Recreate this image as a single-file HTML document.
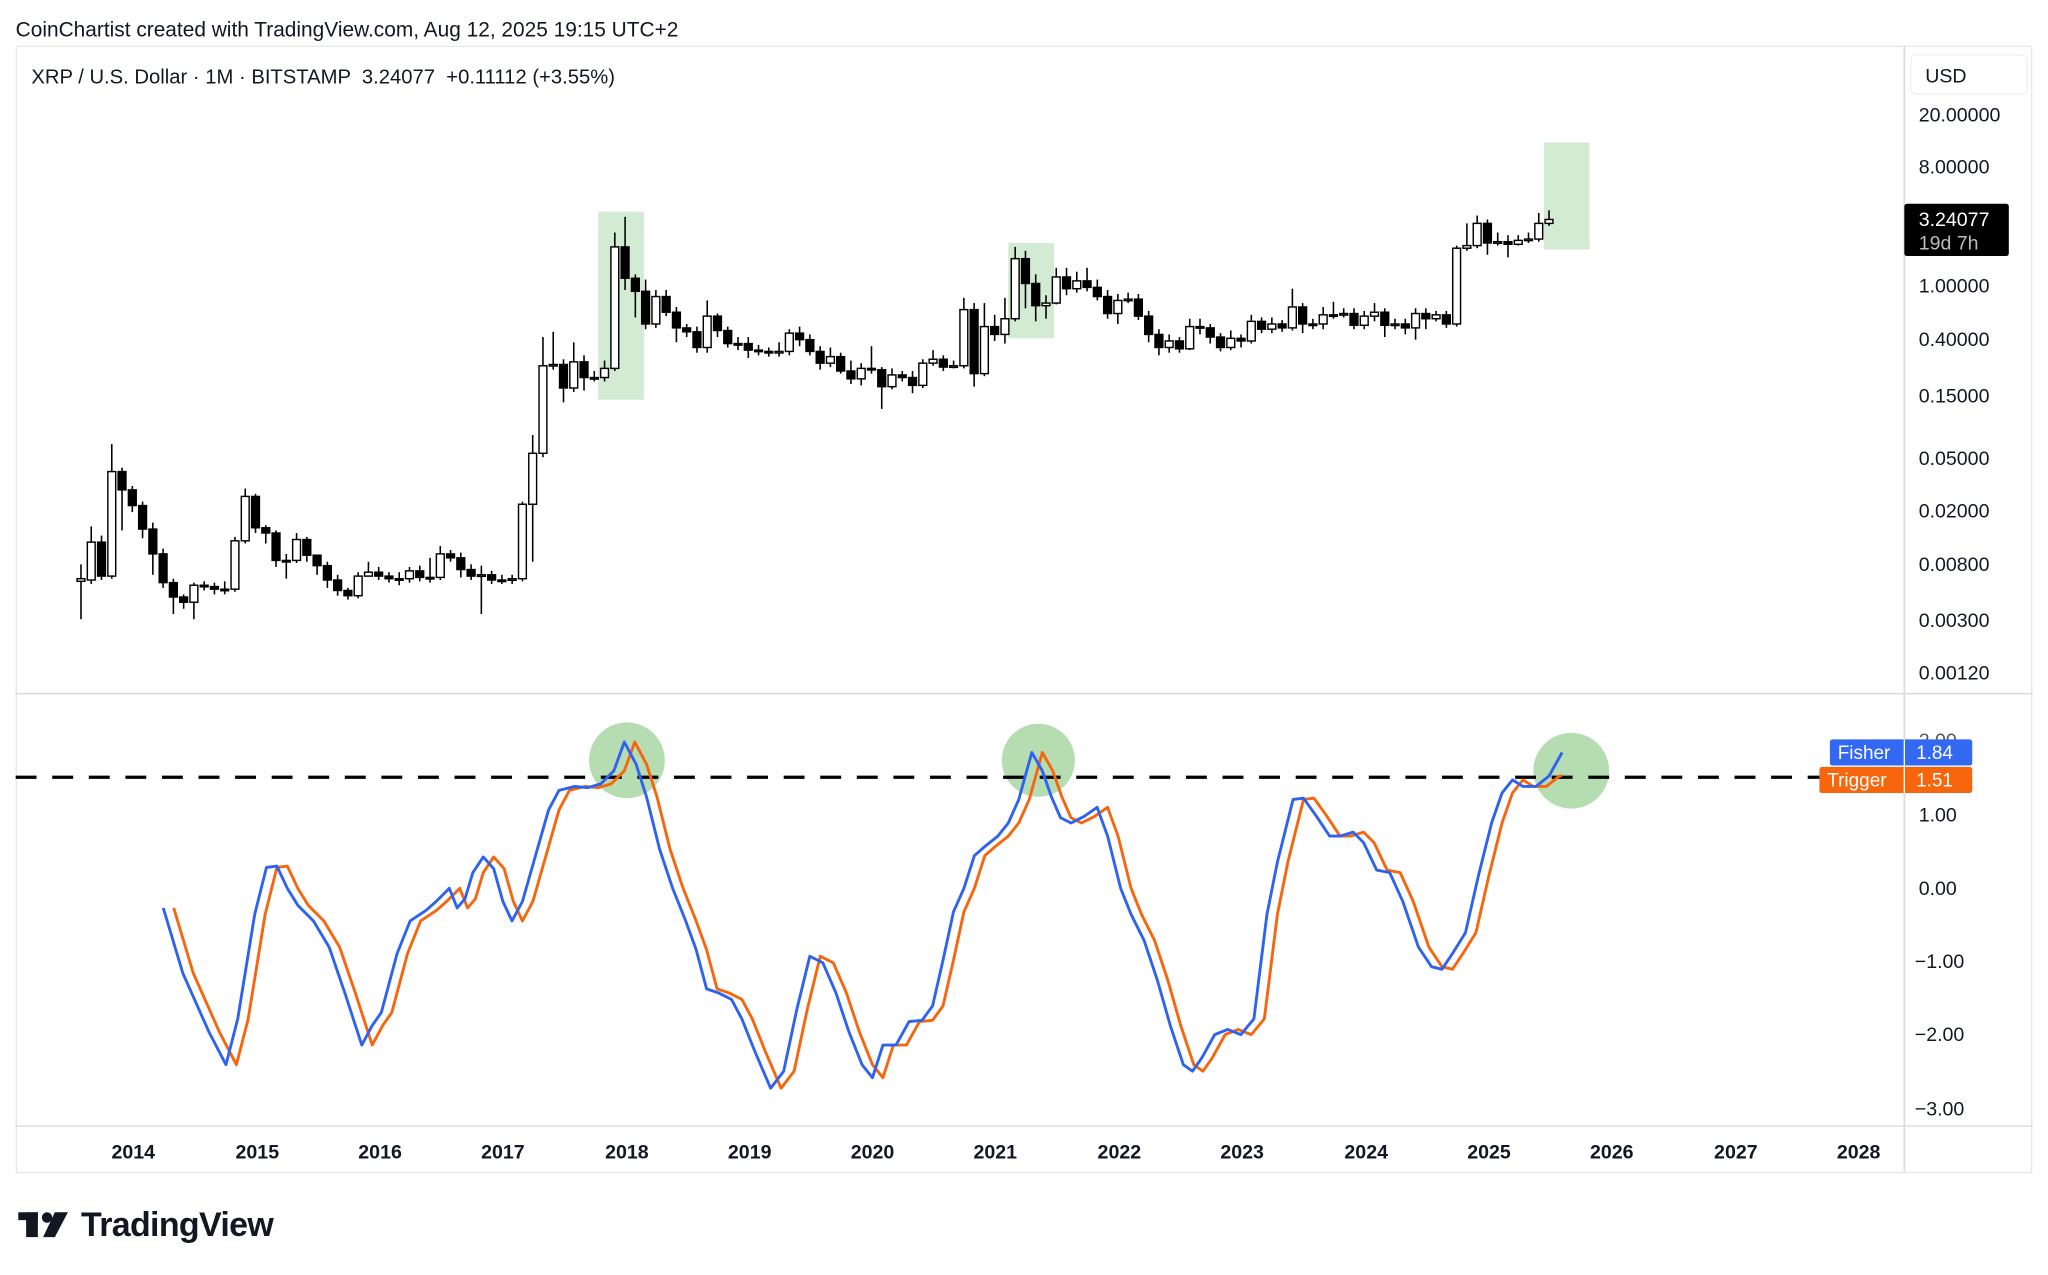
<!DOCTYPE html>
<html><head><meta charset="utf-8"><style>
html,body{margin:0;padding:0;background:#fff;}
svg{display:block;font-family:"Liberation Sans",sans-serif;}
</style></head><body>
<svg id="s" width="2048" height="1275" viewBox="0 0 1568 976" preserveAspectRatio="none" xmlns="http://www.w3.org/2000/svg">
<rect x="0" y="0" width="1568" height="976" fill="#fff"/>
<text x="12" y="28" font-size="16" fill="#131722">CoinChartist created with TradingView.com, Aug 12, 2025 19:15 UTC+2</text>
<rect x="12.5" y="35.5" width="1543" height="862" fill="none" stroke="#e6e8ec" stroke-width="1"/>
<line x1="1458" y1="35" x2="1458" y2="897" stroke="#d9dbe0" stroke-width="1.3"/>
<line x1="12" y1="531" x2="1556" y2="531" stroke="#d9dbe0" stroke-width="1.3"/>
<line x1="12" y1="862" x2="1556" y2="862" stroke="#d9dbe0" stroke-width="1"/>
<text x="24" y="64" font-size="15.5" fill="#131722" xml:space="preserve">XRP / U.S. Dollar · 1M · BITSTAMP  3.24077  +0.11112 (+3.55%)</text>
<rect x="1463" y="42" width="89" height="30" rx="4" fill="#fff" stroke="#eef0f3"/>
<text x="1474" y="63" font-size="15" fill="#131722">USD</text>
<g font-size="15" fill="#131722">
<text x="1469" y="93">20.00000</text>
<text x="1469" y="133">8.00000</text>
<text x="1469" y="224">1.00000</text>
<text x="1469" y="265">0.40000</text>
<text x="1469" y="308">0.15000</text>
<text x="1469" y="356">0.05000</text>
<text x="1469" y="396">0.02000</text>
<text x="1469" y="437">0.00800</text>
<text x="1469" y="480">0.00300</text>
<text x="1469" y="520">0.00120</text>
<text x="1469" y="572" fill="#555">2.00</text>
<text x="1469" y="629">1.00</text>
<text x="1469" y="685">0.00</text>
<text x="1466" y="741">−1.00</text>
<text x="1466" y="797">−2.00</text>
<text x="1466" y="854">−3.00</text>
</g>
<rect x="1458" y="156" width="80" height="40" rx="2" fill="#000"/>
<text x="1469" y="173" font-size="15" fill="#fff">3.24077</text>
<text x="1469" y="191" font-size="15" fill="#bbb">19d 7h</text>
<g font-size="15" font-weight="bold" fill="#131722" text-anchor="middle">
<text x="102" y="887">2014</text><text x="197" y="887">2015</text><text x="291" y="887">2016</text>
<text x="385" y="887">2017</text><text x="480" y="887">2018</text><text x="574" y="887">2019</text>
<text x="668" y="887">2020</text><text x="762" y="887">2021</text><text x="857" y="887">2022</text>
<text x="951" y="887">2023</text><text x="1046" y="887">2024</text><text x="1140" y="887">2025</text>
<text x="1234" y="887">2026</text><text x="1329" y="887">2027</text><text x="1423" y="887">2028</text>
</g>
<rect x="458" y="162" width="35" height="144" fill="#d3ebd2"/>
<rect x="772" y="186" width="35" height="73" fill="#d3ebd2"/>
<rect x="1182" y="109" width="35" height="82" fill="#d3ebd2"/>
<circle cx="480" cy="582" r="29" fill="#b6dcb2"/>
<circle cx="795" cy="582" r="28" fill="#b6dcb2"/>
<circle cx="1203" cy="590" r="29" fill="#b6dcb2"/>
<g id="candles"></g>
<line x1="12" y1="595" x2="1393" y2="595" stroke="#000" stroke-width="2.5" stroke-dasharray="16 12"/>
<polyline id="trig" fill="none" stroke="#f7650d" stroke-width="2.2" stroke-linejoin="round"/>
<polyline id="fish" fill="none" stroke="#2e62f0" stroke-width="2.2" stroke-linejoin="round"/>
<rect x="1401" y="566" width="109" height="20" rx="2" fill="#3368f2"/>
<line x1="1458" y1="566" x2="1458" y2="586" stroke="#fff" stroke-width="1"/>
<text x="1407" y="581" font-size="14.5" fill="#fff">Fisher</text>
<text x="1467" y="581" font-size="14.5" fill="#fff">1.84</text>
<rect x="1393" y="587" width="117" height="20" rx="2" fill="#f7650d"/>
<line x1="1458" y1="587" x2="1458" y2="607" stroke="#fff" stroke-width="1"/>
<text x="1399" y="602" font-size="14.5" fill="#fff">Trigger</text>
<text x="1467" y="602" font-size="14.5" fill="#fff">1.51</text>
<g fill="#131722">
<rect x="14" y="928" width="15" height="6"/><rect x="20" y="928" width="9" height="19"/>
<circle cx="36" cy="932" r="4"/><polygon points="42,928 52,928 42,947 33,947"/>
</g>
<text x="62" y="946" font-size="26" font-weight="bold" fill="#131722" letter-spacing="-0.5">TradingView</text>
</svg>
<script>
(function(){
var C=[[445,443,432,474],[444,415,403,447],[415,441,410,444],[441,361,340,443],[361,375,358,406],[375,387,372,392],[387,405,384,412],[405,424,400,440],[424,446,420,450],[446,457,443,470],[457,461,455,466],[461,448,446,474],[448,449,445,452],[449,451,446,455],[451,451,445,455],[451,414,411,453],[414,380,374,416],[380,404,378,408],[404,408,402,416],[408,429,406,434],[429,429,424,443],[429,413,408,431],[413,425,411,430],[425,433,428,440],[433,444,430,450],[444,452,440,456],[452,456,450,459],[456,441,438,458],[441,438,430,441],[438,441,434,444],[441,443,438,446],[443,443,438,448],[443,437,434,446],[437,442,433,445],[442,442,427,446],[442,424,418,444],[424,427,421,430],[427,436,423,442],[436,441,432,444],[441,440,433,470],[440,444,437,447],[444,444,440,447],[444,443,440,447],[443,386,384,445],[386,347,333,430],[347,280,258,350],[280,279,254,283],[279,297,275,308],[297,277,262,300],[277,289,272,299],[289,289,284,292],[289,282,276,292],[282,189,178,284],[189,213,166,222],[213,223,210,243],[223,248,214,252],[248,227,222,251],[227,239,222,242],[239,251,235,262],[251,254,248,258],[254,266,250,270],[266,242,230,270],[242,253,240,258],[253,263,250,266],[263,263,258,268],[263,268,258,274],[268,269,264,272],[269,270,266,273],[270,269,262,273],[269,255,252,272],[255,260,250,265],[260,269,256,272],[269,278,265,283],[278,273,266,281],[273,284,270,286],[284,290,276,294],[290,282,278,295],[282,283,265,286],[283,296,281,313],[296,287,282,298],[287,289,284,292],[289,295,284,301],[295,278,275,297],[278,275,268,280],[275,281,272,284],[281,280,276,282],[280,237,228,282],[237,286,232,296],[286,250,232,288],[250,256,241,261],[256,244,228,263],[244,198,189,246],[198,217,192,236],[217,234,210,246],[234,232,226,244],[232,212,205,233],[212,221,205,226],[221,215,208,224],[215,220,205,223],[220,227,214,230],[227,240,222,244],[240,230,225,248],[230,229,224,232],[229,242,225,245],[242,256,238,262],[256,266,252,272],[266,261,256,270],[261,267,258,270],[267,250,244,268],[250,251,244,256],[251,258,248,263],[258,266,255,269],[266,259,253,268],[259,261,256,266],[261,246,241,263],[246,252,243,255],[252,248,243,255],[248,251,245,254],[251,235,221,253],[235,248,232,255],[248,248,244,252],[248,241,235,252],[241,241,231,244],[241,240,236,243],[240,249,236,252],[249,242,238,252],[242,239,232,246],[239,249,236,258],[249,248,244,252],[248,251,244,256],[251,240,236,260],[240,244,236,252],[244,241,238,246],[241,248,238,251],[248,190,188,250],[190,188,171,192],[188,171,165,190],[171,186,168,195],[186,185,178,188],[185,187,180,197],[187,184,180,188],[184,183,178,186],[183,171,163,185],[171,168,161,173]];
var NS="http://www.w3.org/2000/svg";
var g=document.getElementById('candles');
function el(t,a){var e=document.createElementNS(NS,t);for(var k in a)e.setAttribute(k,a[k]);g.appendChild(e);}
for(var i=0;i<C.length;i++){var x=62+i*7.86,o=C[i][0],c=C[i][1],hi=Math.min(C[i][2],o,c),lo=Math.max(C[i][3],o,c);
var by=Math.min(o,c),bh=Math.max(Math.abs(c-o),1.2),up=c<o;
el('line',{x1:x,y1:hi,x2:x,y2:lo,stroke:'#000','stroke-width':1.2});
el('rect',{x:x-3,y:by,width:6,height:bh,fill:(up?'#fff':'#000'),stroke:'#000','stroke-width':1.1});}
var F=[[125,695],[140,745],[160,790],[173,815],[182,780],[195,700],[204,664],[212,663],[220,680],[228,693],[240,705],[252,725],[264,760],[277,800],[285,785],[292,775],[304,730],[314,705],[326,697],[334,690],[344,680],[350,695],[356,688],[362,668],[370,656],[378,665],[385,690],[392,705],[400,690],[410,655],[420,620],[428,605],[440,602],[450,603],[460,600],[470,590],[478,568],[487,585],[495,610],[505,650],[515,680],[525,705],[533,727],[541,757],[550,760],[560,765],[568,780],[578,805],[590,833],[600,820],[610,773],[620,732],[630,737],[640,760],[650,790],[660,815],[668,825],[676,800],[686,800],[696,782],[706,781],[714,770],[722,735],[730,698],[738,680],[746,655],[754,648],[764,640],[772,630],[780,612],[790,576],[798,590],[805,610],[812,626],[820,630],[830,625],[840,618],[848,640],[858,680],[866,700],[876,720],[886,750],[896,785],[906,815],[913,820],[920,810],[930,792],[940,788],[950,792],[960,780],[970,700],[978,660],[990,612],[998,611],[1008,625],[1018,640],[1026,640],[1036,637],[1044,645],[1054,666],[1064,668],[1074,690],[1086,725],[1096,740],[1104,742],[1112,730],[1122,714],[1132,670],[1142,630],[1150,607],[1158,597],[1166,602],[1176,602],[1186,594],[1196,576]];
document.getElementById('fish').setAttribute('points',F.map(function(p){return p.join(',')}).join(' '));
var T=[];for(var j=0;j<F.length-1;j++){var tx=F[j][0]+8;if(tx<=1196)T.push([tx,F[j][1]]);}
T.push([1196,594]);
document.getElementById('trig').setAttribute('points',T.map(function(p){return p.join(',')}).join(' '));
})();
</script>
</body></html>
